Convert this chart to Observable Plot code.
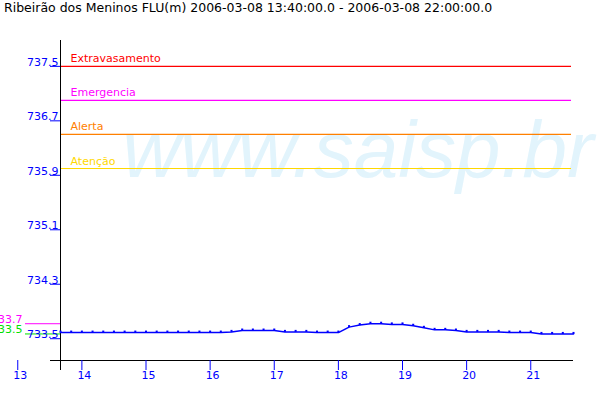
<!DOCTYPE html>
<html>
<head>
<meta charset="utf-8">
<script src="https://cdn.jsdelivr.net/npm/d3@7"></script>
<script src="https://cdn.jsdelivr.net/npm/@observablehq/plot@0.6"></script>
<style>
  html, body { margin: 0; padding: 0; background: #fff; overflow: hidden; }
  #title { height: 20px; line-height: 20px; padding-left: 4px; font: 12.5px "DejaVu Sans", sans-serif; color: #000; white-space: nowrap; }
  #chart svg { display: block; }
</style>
</head>
<body>
<div id="title"></div>
<div id="chart"></div>
<script>
// ---- data ----
const titleText = "Ribeirão dos Meninos FLU(m) 2006-03-08 13:40:00.0 - 2006-03-08 22:00:00.0";
const times = ["13:40","13:50","14:00","14:10","14:20","14:30","14:40","14:50","15:00","15:10",
               "15:20","15:30","15:40","15:50","16:00","16:10","16:20","16:30","16:40","16:50",
               "17:00","17:10","17:20","17:30","17:40","17:50","18:00","18:10","18:20","18:30",
               "18:40","18:50","19:00","19:10","19:20","19:30","19:40","19:50","20:00","20:10",
               "20:20","20:30","20:40","20:50","21:00","21:10","21:20","21:30","21:40"];
const levels = [733.59,733.59,733.59,733.59,733.59,733.59,733.59,733.59,733.59,733.59,
                733.59,733.59,733.59,733.59,733.59,733.59,733.60,733.62,733.62,733.62,
                733.62,733.60,733.60,733.60,733.59,733.59,733.59,733.67,733.70,733.72,
                733.72,733.71,733.71,733.69,733.66,733.63,733.63,733.62,733.60,733.60,
                733.60,733.60,733.59,733.59,733.59,733.57,733.57,733.57,733.57];
const levelNames = ["Extravasamento", "Emergencia", "Alerta", "Atenção"];
const levelValues = [737.5, 737.0, 736.5, 736.0];
const yTicks = [733.5, 734.3, 735.1, 735.9, 736.7, 737.5];
const xTicks = [13, 14, 15, 16, 17, 18, 19, 20, 21];
const sideLabels = ["733.7", "733.5"];
const watermark = "www.saisp.br";

// ---- styles / scales ----
const levelColors = ["#ff0000", "#ff00ff", "#ff8000", "#ffd800"];
const blue = "#0000ff";
const xDomain = [13 + 40 / 60, 21 + 40 / 60];
const yDomain = [733.18, 737.88];

const toHours = t => { const [h, m] = t.split(":").map(Number); return h + m / 60; };
const series = times.map((t, i) => ({h: toHours(t), v: levels[i]}));
const thresholds = levelNames.map((n, i) => ({name: n, value: levelValues[i]}));
const vMax = d3.max(levels), vMin = d3.min(levels);
const sides = [
  {label: sideLabels[0], value: vMax, color: "#ff00ff"},
  {label: sideLabels[1], value: vMin, color: "#00e000"}
];

document.getElementById("title").textContent = titleText;

const chart = Plot.plot({
  width: 600,
  height: 380,
  marginTop: 20,
  marginBottom: 40,
  marginLeft: 60,
  marginRight: 27,
  x: {domain: xDomain},
  y: {domain: yDomain},
  color: {domain: levelNames, range: levelColors},
  style: {fontFamily: "DejaVu Sans, sans-serif", fontSize: "11px", background: "#fff"},
  marks: [
    // watermark
    Plot.text([watermark], {
      frameAnchor: "top-left", textAnchor: "start", lineAnchor: "bottom",
      dx: 62, dy: 136, fontSize: 80, fontStyle: "italic",
      fontFamily: "Liberation Sans, Arial, sans-serif",
      fill: "#e2f4fc", text: d => d
    }),
    // threshold lines + labels
    Plot.ruleY(thresholds, {y: "value", stroke: "name", strokeWidth: 1.2, insetRight: 2}),
    Plot.text(thresholds, {
      x: () => xDomain[0], y: "value", text: "name", fill: "name",
      textAnchor: "start", lineAnchor: "bottom", dx: 10, dy: -4
    }),
    // side max/min markers
    Plot.ruleY(sides, {y: "value", stroke: "color", insetLeft: -35, insetRight: 513}),
    Plot.text(sides, {
      x: () => xDomain[0], y: "value", text: "label", fill: "color",
      textAnchor: "end", lineAnchor: "bottom", dx: -38, dy: -0.5
    }),
    // axes lines
    Plot.ruleX([xDomain[0]], {stroke: "#000", insetBottom: -10}),
    Plot.ruleY([yDomain[0]], {stroke: "#000", insetLeft: -10}),
    // y axis ticks + labels
    Plot.axisY(yTicks, {tickSize: 10, tickFormat: () => "", stroke: blue, label: null}),
    Plot.text(yTicks, {
      y: d => d, frameAnchor: "left", textAnchor: "end", dx: -2, dy: -4,
      text: d => d.toFixed(1), fill: blue
    }),
    // x axis ticks + labels
    Plot.axisX(xTicks, {tickSize: 10, tickFormat: () => "", stroke: blue, label: null}),
    Plot.text(xTicks, {
      x: d => d, frameAnchor: "bottom", lineAnchor: "top", dy: 11, dx: 2.5,
      text: d => String(d), fill: blue
    }),
    // data
    Plot.line(series, {x: "h", y: "v", stroke: blue, strokeWidth: 1.5}),
    Plot.dot(series, {x: "h", y: "v", symbol: "square", r: 1.15, fill: blue, dy: -1})
  ]
});
document.getElementById("chart").appendChild(chart);
</script>
</body>
</html>
